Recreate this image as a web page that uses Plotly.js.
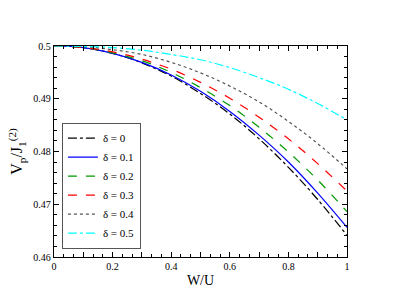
<!DOCTYPE html>
<html>
<head>
<meta charset="utf-8">
<script src="https://cdn.plot.ly/plotly-3.0.1.min.js"></script>
<style>html,body{margin:0;padding:0;background:#fff;}#chart{width:415px;height:294px;}</style>
</head>
<body>
<div id="chart"></div>
<script>
var xVals = [0, 0.1, 0.2, 0.3, 0.4, 0.5, 0.6, 0.7, 0.8, 0.9, 1.0];
var seriesNames = ["δ = 0", "δ = 0.1", "δ = 0.2", "δ = 0.3", "δ = 0.4", "δ = 0.5"];
var d0  = [0.5000, 0.4997, 0.4986, 0.4968, 0.4943, 0.4910, 0.4871, 0.4824, 0.4770, 0.4709, 0.4641];
var d01 = [0.5000, 0.4997, 0.4986, 0.4969, 0.4945, 0.4914, 0.4876, 0.4831, 0.4780, 0.4721, 0.4656];
var d02 = [0.5000, 0.4997, 0.4987, 0.4972, 0.4950, 0.4921, 0.4887, 0.4846, 0.4799, 0.4746, 0.4686];
var d03 = [0.5000, 0.4997, 0.4989, 0.4975, 0.4956, 0.4931, 0.4901, 0.4865, 0.4824, 0.4777, 0.4725];
var d04 = [0.5000, 0.4999, 0.4993, 0.4984, 0.4969, 0.4949, 0.4924, 0.4894, 0.4857, 0.4815, 0.4767];
var d05 = [0.5000, 0.4999, 0.4997, 0.4992, 0.4984, 0.4974, 0.4959, 0.4940, 0.4918, 0.4891, 0.4860];
var xTickVals = [0, 0.1, 0.2, 0.3, 0.4, 0.5, 0.6, 0.7, 0.8, 0.9, 1.0];
var xTickText = ["0", "", "0.2", "", "0.4", "", "0.6", "", "0.8", "", "1"];
var yTickVals = [0.46, 0.47, 0.48, 0.49, 0.5];
var yTickText = ["0.46", "0.47", "0.48", "0.49", "0.5"];

var allY = [d0, d01, d02, d03, d04, d05];
var colors = ["#000000", "#0000ff", "#009900", "#ff0000", "#555555", "#00ffff"];
var dashes = ["dashdot", "solid", "dash", "dash", "dot", "dashdot"];

var traces = allY.map(function (ys, i) {
  return {
    x: xVals, y: ys, type: "scatter", mode: "lines", name: seriesNames[i],
    line: {color: colors[i], width: 1.2, dash: dashes[i], shape: "spline"}
  };
});

var font = {family: "Liberation Serif, Times New Roman, serif", color: "#000"};
var layout = {
  width: 415, height: 294,
  margin: {l: 54, r: 68, t: 46, b: 37},
  paper_bgcolor: "#fff", plot_bgcolor: "#fff",
  showlegend: true,
  legend: {
    x: 0.027, y: 0.04, xanchor: "left", yanchor: "bottom",
    bgcolor: "#fff", bordercolor: "#555", borderwidth: 1,
    font: {family: font.family, size: 11, color: "#000"},
    tracegroupgap: 0, itemwidth: 30
  },
  xaxis: {
    range: [0, 1], tickmode: "array", tickvals: xTickVals, ticktext: xTickText,
    ticks: "inside", ticklen: 5, tickcolor: "#000", tickwidth: 1,
    minor: {dtick: 0.1 / 3, ticks: "inside", ticklen: 3, tickcolor: "#000", tickwidth: 1, showgrid: false},
    showline: true, linecolor: "#000", linewidth: 1.2, mirror: "allticks",
    showgrid: false, zeroline: false,
    tickfont: {family: font.family, size: 10, color: "#000"},
    title: {text: "W/U", font: {family: font.family, size: 14, color: "#000"}, standoff: 4}
  },
  yaxis: {
    range: [0.46, 0.5], tickmode: "array", tickvals: yTickVals, ticktext: yTickText,
    ticks: "inside", ticklen: 5, tickcolor: "#000", tickwidth: 1,
    minor: {dtick: 0.002, ticks: "inside", ticklen: 3, tickcolor: "#000", tickwidth: 1, showgrid: false},
    showline: true, linecolor: "#000", linewidth: 1.2, mirror: "allticks",
    showgrid: false, zeroline: false,
    tickfont: {family: font.family, size: 10, color: "#000"},
    title: {text: "V<sub>p</sub>/J<sub>1</sub><sup>(2)</sup>", font: {family: font.family, size: 16, color: "#000"}, standoff: 6}
  }
};

Plotly.newPlot("chart", traces, layout, {staticPlot: true, displayModeBar: false});
</script>
</body>
</html>
